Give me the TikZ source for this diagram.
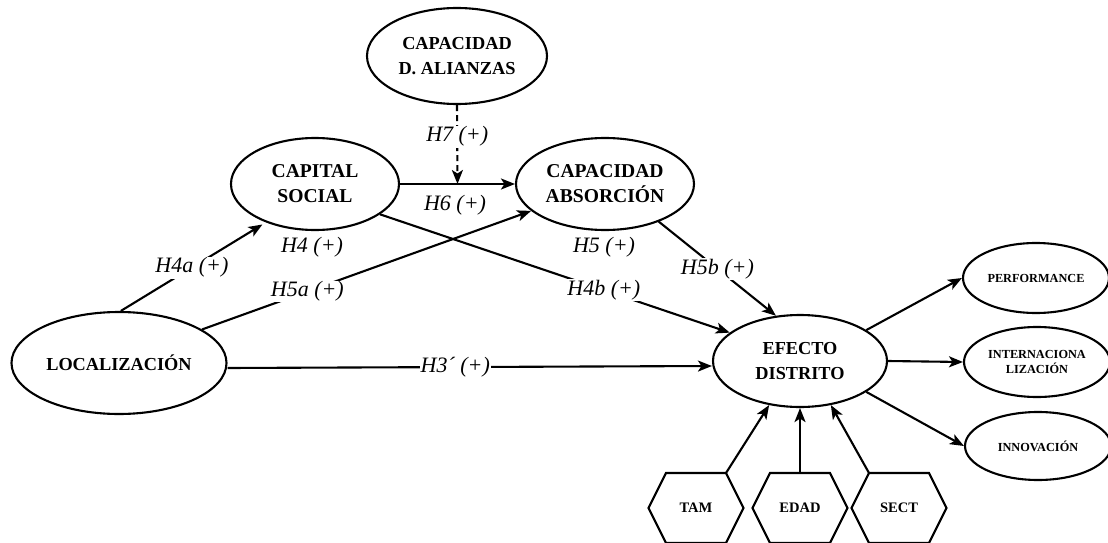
\documentclass[tikz,border=0pt]{standalone}
\usepackage{fontspec}
\setmainfont{Liberation Serif}
\usetikzlibrary{arrows.meta,calc,shapes.geometric}

\begin{document}
\begin{tikzpicture}[x=1pt,y=-1pt,line width=2.1pt,
  construct/.style={draw,ellipse,inner sep=0pt,align=center,
    font=\fontsize{19.6}{25}\selectfont\bfseries},
  construct small/.style={construct,font=\fontsize{18.3}{25}\selectfont\bfseries},
  outcome/.style={draw,ellipse,inner sep=0pt,align=center,
    minimum width=146pt,minimum height=70pt,
    font=\fontsize{12.3}{14.5}\selectfont\bfseries},
  ctrlbox/.style={rectangle,inner sep=0pt,outer sep=0pt,
    minimum width=95pt,minimum height=70pt,
    font=\fontsize{14.5}{17}\selectfont\bfseries},
  hyp/.style={font=\fontsize{22}{26}\selectfont\itshape,inner sep=1pt},
  onlink/.style={hyp,fill=white},
  link/.style={-{Stealth[length=14pt,width=11pt,inset=3.5pt]}},
  moderation/.style={link,dash pattern=on 6pt off 4pt}
]
\useasboundingbox (0,0) rectangle (1108,543);

% constructs
\node[construct small,minimum width=180pt,minimum height=96pt] (ali) at (457,56)
  {CAPACIDAD\\D. ALIANZAS};
\node[construct,minimum width=168pt,minimum height=92pt] (cs) at (315,184)
  {CAPITAL\\SOCIAL};
\node[construct,minimum width=178pt,minimum height=92pt] (abs) at (605,184)
  {CAPACIDAD\\ABSORCIÓN};
\node[construct small,minimum width=215pt,minimum height=102pt] (loc) at (119,363)
  {LOCALIZACIÓN};
\node[construct small,minimum width=174pt,minimum height=92pt] (ef) at (800,361)
  {EFECTO\\DISTRITO};

% outcomes
\node[outcome] (perf) at (1036,278) {PERFORMANCE};
\node[outcome] (int) at (1037,362) {INTERNACIONA\\LIZACIÓN};
\node[outcome,minimum height=68pt] (inn) at (1038,446) {INNOVACIÓN};

% control variables (hexagons)
\node[ctrlbox] (tam) at (696,508) {TAM};
\node[ctrlbox] (edad) at (800,508) {EDAD};
\node[ctrlbox] (sect) at (899,508) {SECT};
\foreach \h in {tam,edad,sect}
  \draw ([xshift=17.5pt]\h.north west) -- ([xshift=-17.5pt]\h.north east)
    -- (\h.east) -- ([xshift=-17.5pt]\h.south east)
    -- ([xshift=17.5pt]\h.south west) -- (\h.west) -- cycle;

% direct paths
\coordinate (h6mid) at ($(cs.east)!0.5!(abs.west)$);
\draw[link] (cs.east) -- (abs.west);
\draw[moderation] (ali.south) -- node[onlink,pos=0.4] {H7 (+)} (h6mid);
\node[hyp] (lh6) at (455,205) {H6 (+)};
\node[hyp] (lh4) at (312,247) {H4 (+)};
\node[hyp] (lh5) at (604,247) {H5 (+)};

\draw[link,shorten >=4pt] (loc.88) -- node[onlink,pos=0.49] {H4a (+)} (cs.218);
\draw[link] (loc.22) -- node[onlink,pos=0.32] {H5a (+)} (abs.200);
\draw[link] (cs.-25) -- node[onlink,pos=0.64] {H4b (+)} (ef.158);
\draw[link] (abs.-35) -- node[onlink,pos=0.5] {H5b (+)} (ef.118);
\draw[link] ([yshift=-5pt]loc.east) -- node[onlink,pos=0.47] {H3´ (+)} ([yshift=-5pt]ef.west);

% outcomes of the district effect
\draw[link] (ef.25) -- (perf.west);
\draw[link] (ef.east) -- (int.west);
\draw[link] (ef.-25) -- (inn.west);

% controls
\draw[link] ([xshift=-17.5pt]tam.north east) -- (ef.235);
\draw[link] (edad.north) -- (ef.south);
\draw[link] ([xshift=17.5pt]sect.north west) -- (ef.-55);
\end{tikzpicture}
\end{document}
